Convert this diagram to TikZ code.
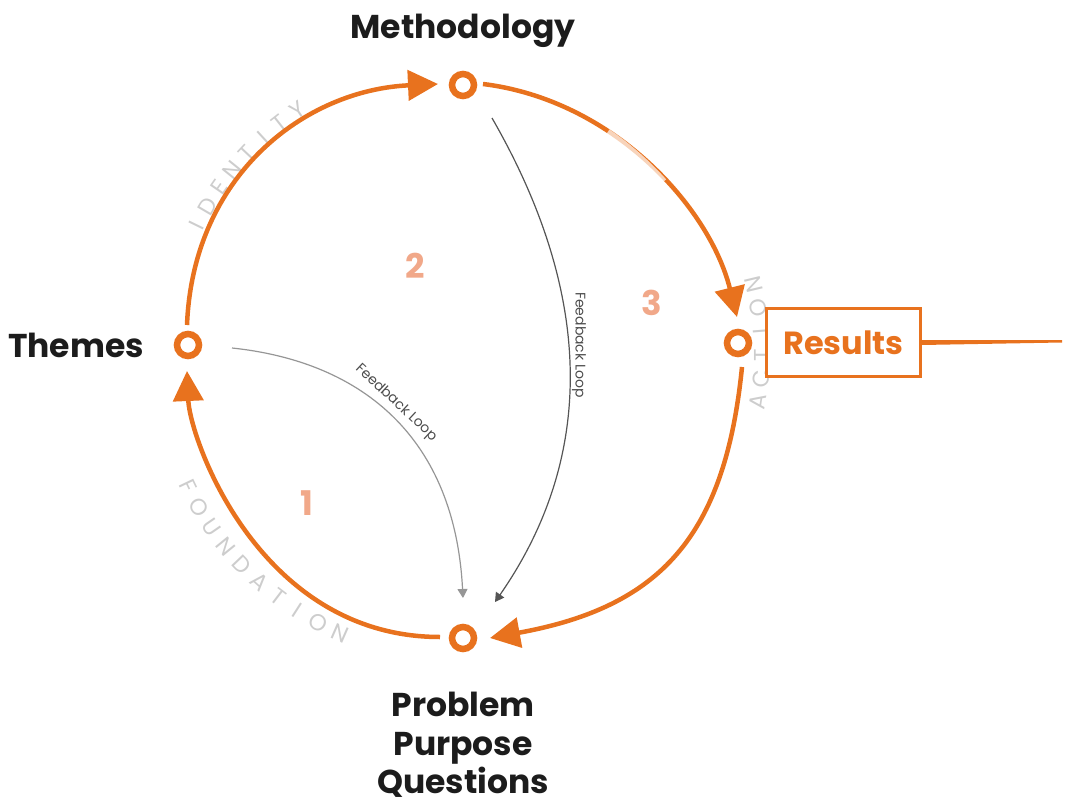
\documentclass[tikz,border=0pt]{standalone}
\usepackage{fontspec}
\setmainfont{Poppins}
\usetikzlibrary{arrows.meta}
\definecolor{orng}{RGB}{232,114,30}
\definecolor{salmon}{RGB}{241,168,137}
\definecolor{lgray}{RGB}{205,205,205}
\definecolor{fbA}{RGB}{150,150,150}
\definecolor{fbB}{RGB}{85,85,85}
\definecolor{ink}{RGB}{28,28,28}
\begin{document}
\begin{tikzpicture}[x=1pt,y=-1pt,
  ring/.style={circle,draw=orng,line width=6.5pt,minimum size=22pt,inner sep=0pt},
  cyc/.style={draw=orng,line width=4.5pt,-{Triangle[length=30pt,width=30pt]}},
  fb/.style={line width=1.2pt,-{Triangle[length=9pt,width=10pt]}},
  lab/.style={font=\bfseries\fontsize{33}{39}\selectfont,text=ink,inner sep=0pt},
  num/.style={font=\bfseries\fontsize{34}{40}\selectfont,text=salmon,inner sep=0pt},
  arcl/.style={font=\fontsize{23}{23}\selectfont,text=lgray,inner sep=0pt},
  fbl/.style={font=\fontsize{14}{14}\selectfont,text=black!70,inner sep=0pt},
  resbox/.style={draw=orng,line width=3pt,fill=white,minimum width=154pt,minimum height=68pt,inner sep=0pt,text=orng,font=\bfseries\fontsize{32}{38}\selectfont}]
\useasboundingbox (0,0) rectangle (1069,803);

% curved gray words
\foreach \ch [count=\i] in {I,D,E,N,T,I,T,Y}{
  \pgfmathsetmacro\th{154-(\i-1)*4.3}
  \pgfmathsetmacro\rr{\th-90}
  \node[arcl,rotate=\rr] (id\i) at ({462+295*cos(\th)},{355-295*sin(\th)}) {\ch};
}
\foreach \ch [count=\i] in {F,O,U,N,D,A,T,I,O,N}{
  \pgfmathsetmacro\th{205.6+(\i-1)*4.52}
  \pgfmathsetmacro\rr{\th+90}
  \node[arcl,rotate=\rr] (fd\i) at ({462+304*cos(\th)},{355-304*sin(\th)}) {\ch};
}
\foreach \ch [count=\i] in {A,C,T,I,O,N}{
  \pgfmathsetmacro\th{-9+(\i-1)*4.5}
  \pgfmathsetmacro\rr{\th+90}
  \node[arcl,rotate=\rr] (ac\i) at ({462+300*cos(\th)},{355-300*sin(\th)}) {\ch};
}

% rings
\node[ring] (mr) at (463,85) {};
\node[ring] (tr) at (188,345) {};
\node[ring] (rr) at (738,343) {};
\node[ring] (pr) at (463,638) {};

% cycle arcs
\coordinate (a1s) at (440,637); \coordinate (a1e) at (187,371);
\coordinate (a2s) at (187,325); \coordinate (a2e) at (438,84);
\coordinate (a3s) at (483,84);  \coordinate (a3e) at (737,317);
\coordinate (a4s) at (742,367); \coordinate (a4e) at (490,638);
\draw[cyc] (a1s) .. controls (260,637) and (190,440) .. (a1e);
\draw[cyc] (a2s) .. controls (193,175) and (305,90) .. (a2e);
\draw[cyc] (a3s) .. controls (613,100) and (709.5,207) .. (a3e);
% faded, dry-brush stretch of the third arc
\draw[white,opacity=0.7,line width=6pt,dash pattern=on 0pt off 135pt on 75pt off 400pt]
  (a3s) .. controls (613,100) and (709.5,207) .. (a3e);
\draw[cyc] (a4s) .. controls (725,537) and (660,607) .. (a4e);

% feedback loops
\coordinate (f1s) at (232,348); \coordinate (f1e) at (463,598);
\coordinate (f2s) at (492,118); \coordinate (f2e) at (495,602);
\draw[fb,draw=fbA] (f1s) .. controls (365,362) and (455,440) .. (f1e);
\draw[fb,draw=fbB] (f2s) .. controls (595,297) and (595,458) .. (f2e);
\node[fbl,rotate=-43] (fl1) at (396,403) {Feedback Loop};
\node[fbl,rotate=-90] (fl2) at (579,345) {Feedback Loop};

% numbers
\node[num] (n1) at (307,503) {1};
\node[num] (n2) at (415,266) {2};
\node[num] (n3) at (652,303) {3};

% labels
\node[lab,anchor=base] (mt) at (463,38) {Methodology};
\node[lab,anchor=base] (th) at (76,357) {Themes};
\node[lab,anchor=base] (p1) at (463,716) {Problem};
\node[lab,anchor=base] (p2) at (463,755) {Purpose};
\node[lab,anchor=base] (p3) at (463,793) {Questions};

% results
\node[resbox] (res) at (843.5,342.5) {Results};
\coordinate (tail) at (1062,341);
\fill[orng] ([yshift=-2.5pt]res.east) -- ([yshift=-1.5pt]tail) -- ([yshift=1pt]tail) -- ([yshift=2.5pt]res.east) -- cycle;
\end{tikzpicture}
\end{document}
